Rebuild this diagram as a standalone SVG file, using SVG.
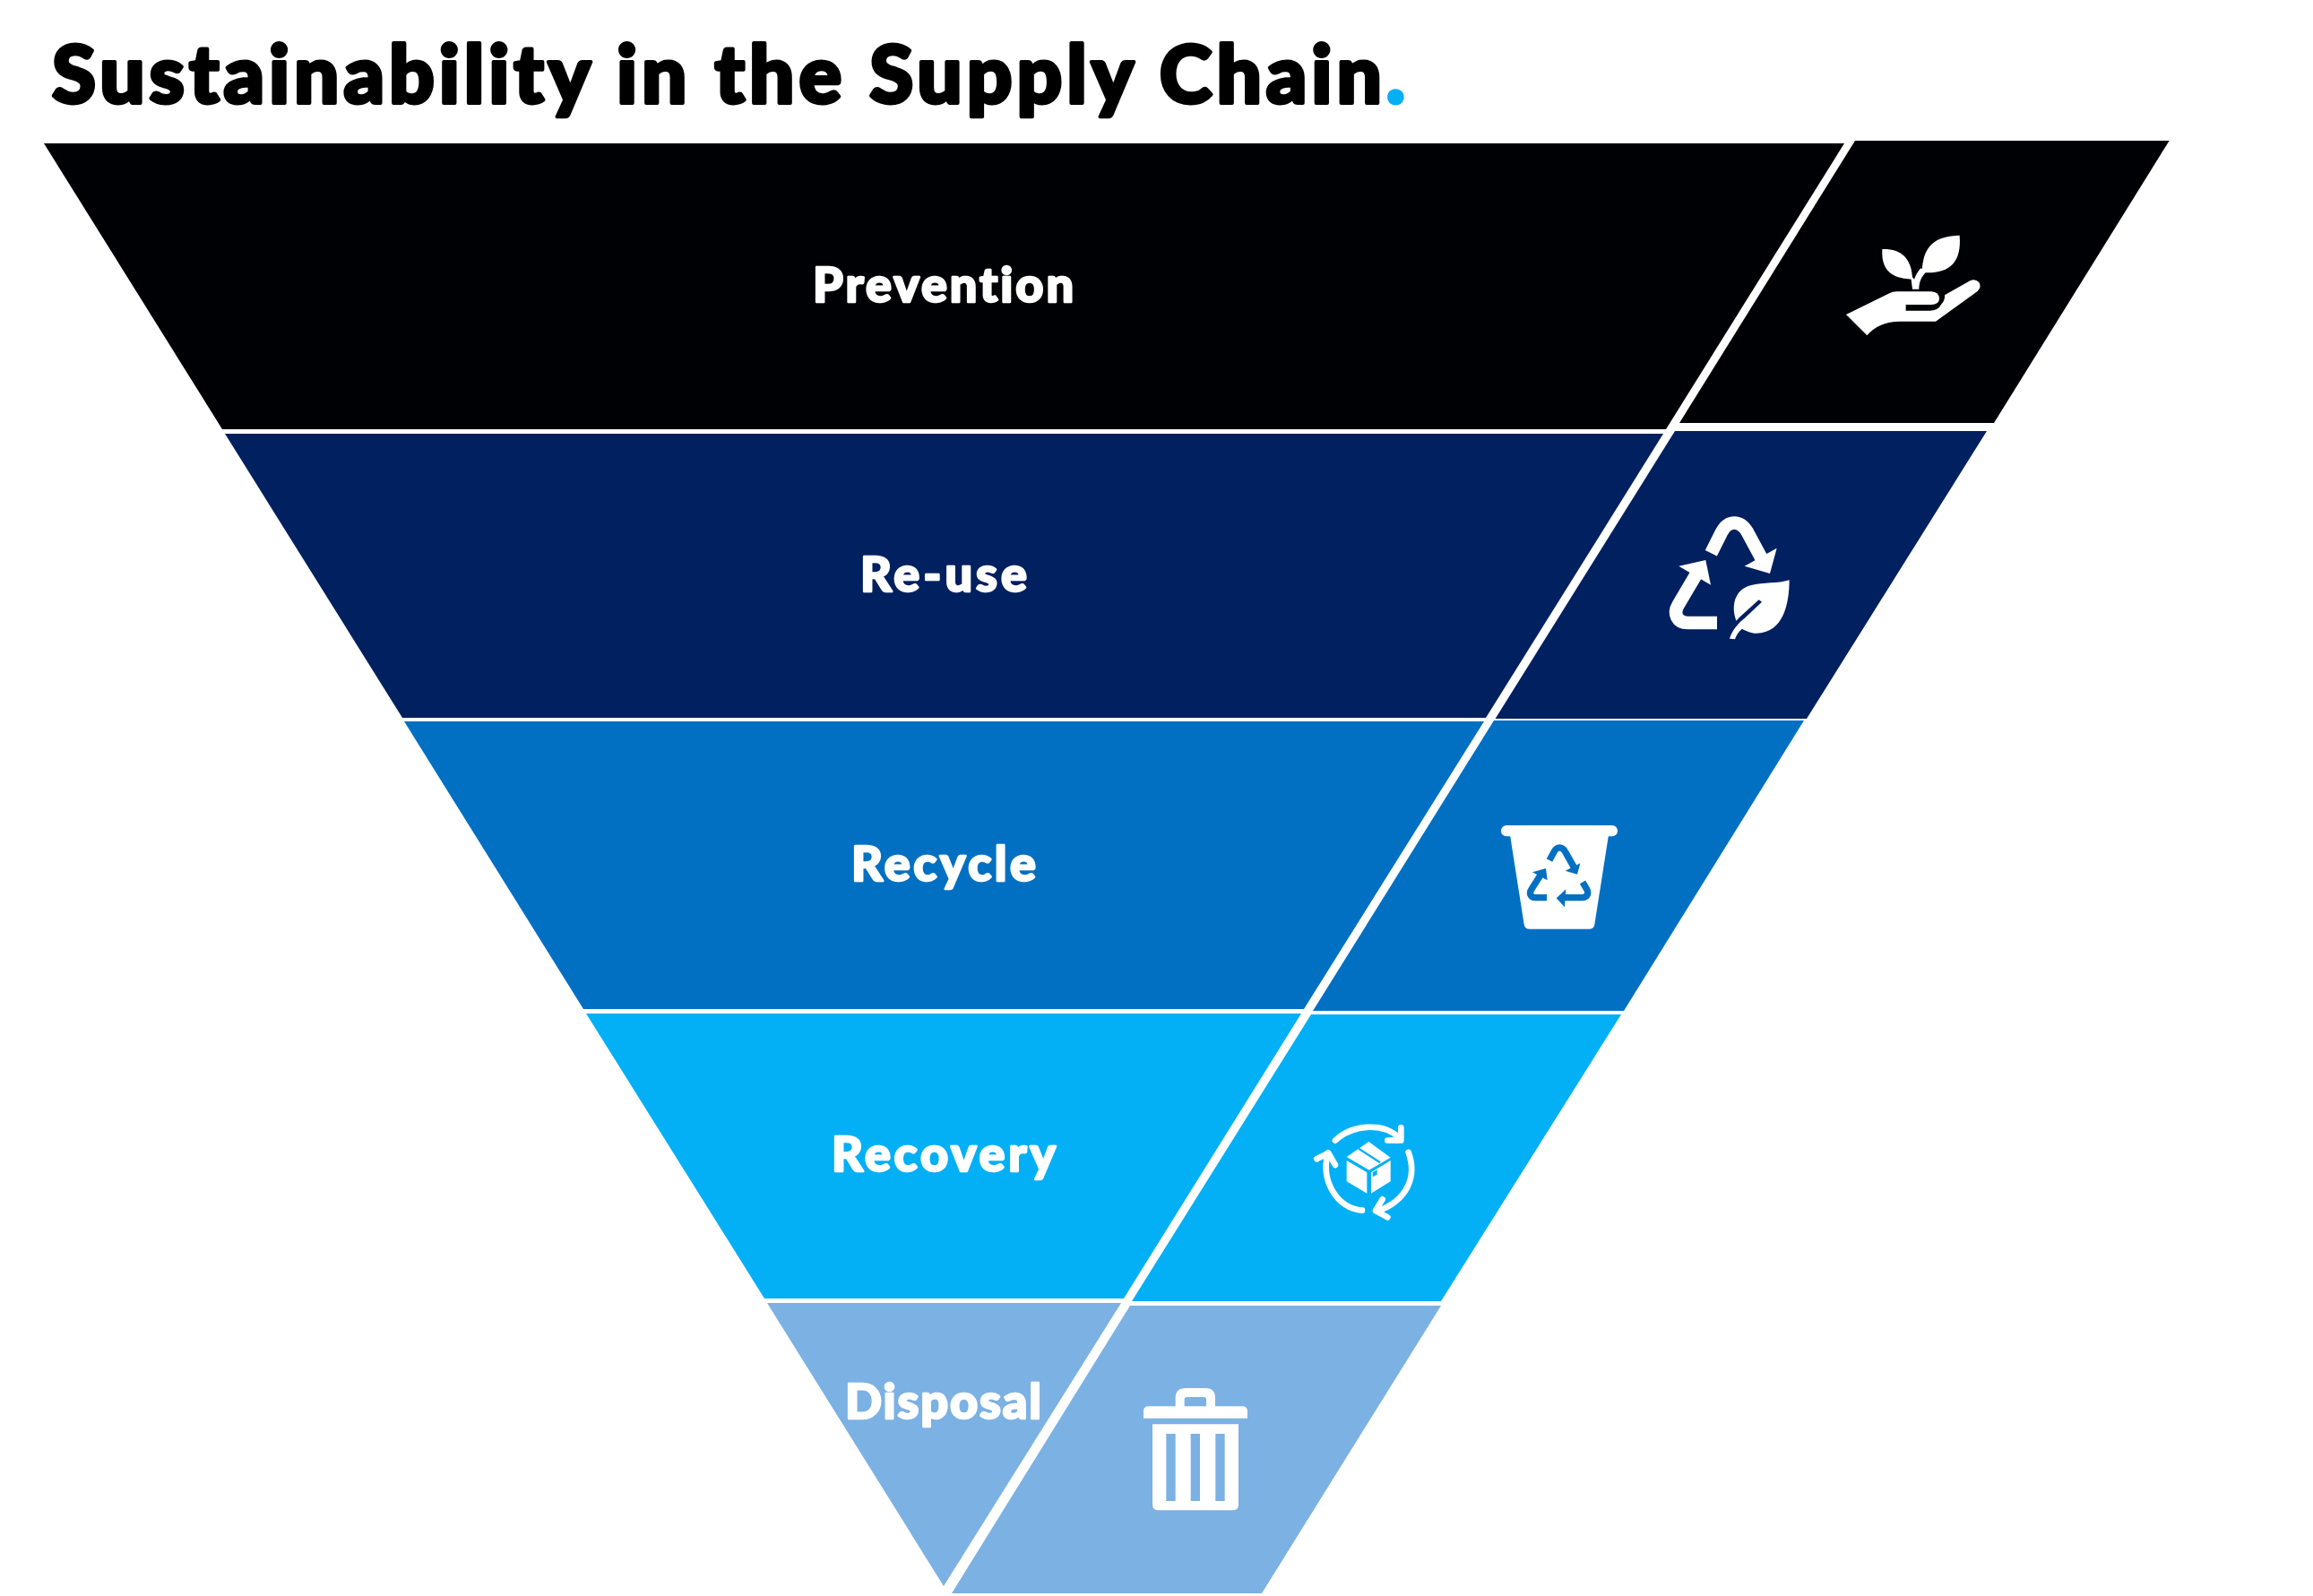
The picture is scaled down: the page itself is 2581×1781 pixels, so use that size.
<svg xmlns="http://www.w3.org/2000/svg" width="2581" height="1781" viewBox="0 0 2581 1781">
<style>
text{font-family:"Lato","Liberation Sans",sans-serif;font-weight:900;font-variant-ligatures:none}
.lbl{font-size:54px;fill:#fff;stroke:#fff;stroke-width:2.4px;stroke-linejoin:round}
.k{fill:#000105}.n{fill:#012060}.b{fill:#0170C3}.c{fill:#04B0F5}.p{fill:#7CB1E3}
.w{fill:#fff}
.ws{fill:none;stroke:#fff;stroke-linecap:butt;stroke-linejoin:miter}
</style>
<rect width="2581" height="1781" fill="#fff"/>
<g id="title"><text x="58" y="115" font-size="89" fill="#000" stroke="#000" stroke-width="4" stroke-linejoin="round" textLength="1510" lengthAdjust="spacing">Sustainability in the Supply Chain<tspan fill="#04B0F5" stroke="#04B0F5">.</tspan></text></g>
<g id="node-prevention"><polygon class="k" points="49,160 2058,160 1859,479 248,479"/><text class="lbl" x="907" y="337" textLength="291" lengthAdjust="spacing">Prevention</text></g>
<g id="node-reuse"><polygon class="n" points="251,484 1856,484 1658,801 449,801"/><text class="lbl" x="960" y="660" textLength="186" lengthAdjust="spacing">Re-use</text></g>
<g id="node-recycle"><polygon class="b" points="451,805 1656,805 1455,1126 651,1126"/><text class="lbl" x="950" y="983" textLength="206" lengthAdjust="spacing">Recycle</text></g>
<g id="node-recovery"><polygon class="c" points="654,1131 1452,1131 1254,1449 853,1449"/><text class="lbl" x="928" y="1307" textLength="250" lengthAdjust="spacing">Recovery</text></g>
<g id="node-disposal"><polygon class="p" points="856,1454 1251,1454 1053,1770"/><text class="lbl" x="943" y="1583" textLength="219" lengthAdjust="spacing">Disposal</text></g>

<g id="icon-prevention">
<polygon class="k" points="2070,157 2420.6,157 2225,472 1874,472"/>
<g transform="translate(2040,240) scale(.3333)" class="w">
<path d="M60,333L205,262Q215,256 230,256L345,256Q372,258 372,280Q372,300 345,300L260,300L260,320L340,320Q368,320 378,300Q392,285 390,268L475,220Q492,212 505,225Q515,240 500,255L360,356L240,356Q170,356 130,403Z"/>
<path d="M181,114C240,112 280,140 282,215C230,212 176,200 181,114Z"/>
<path d="M440,68C360,70 316,100 314,192C400,198 448,165 440,68Z"/>
<path d="M276,200L282,248L304,248C304,225 312,205 330,188L310,178C298,190 292,205 288,215Z"/>
</g></g>
<g id="icon-reuse">
<polygon class="n" points="1869,481 2217,481 2016,802 1668.6,802"/>
<g transform="translate(1840,560) scale(.3333)">
<path class="ws" stroke-width="44" d="M208,172L243,102C265,60 306,60 330,102L380,195"/>
<polygon class="w" points="320,215 428,155 405,240"/>
<path class="ws" stroke-width="44" d="M228,405L130,405C95,405 80,375 98,345L160,240"/>
<polygon class="w" points="100,215 190,195 207,278"/>
<path class="w" d="M470,262C470,340 450,440 360,440C340,440 325,432 312,425C300,435 292,447 288,460L270,458C278,430 300,405 320,390L378,335L368,328L305,385L292,398C275,350 285,295 340,280C385,268 430,275 470,262Z"/>
</g></g>
<g id="icon-recycle">
<polygon class="b" points="1667,804 2013,804 1812,1128 1465,1128"/>
<g transform="translate(1660,905) scale(.3333)">
<rect class="w" x="45" y="48" width="390" height="37" rx="18"/>
<path class="w" d="M75,80L405,80L358,380Q355,395 340,395L140,395Q125,395 122,380Z"/>
<g fill="none" stroke="#0170C3" stroke-width="22">
<path d="M207,165L222,137C232,118 250,118 260,137L290,190"/>
<path d="M198,290L160,290C143,290 138,275 147,262L180,210"/>
<path d="M318,238L332,262C340,278 332,290 315,290L255,290"/>
</g>
<g class="b">
<polygon points="260,200 310,175 300,212"/>
<polygon points="150,205 195,192 200,232"/>
<polygon points="262,262 230,292 258,322"/>
</g></g></g>
<g id="icon-recovery">
<polygon class="c" points="1463,1132 1809,1132 1608,1452 1263,1452"/>
<g transform="translate(1450,1250) scale(.3333)">
<g fill="none" stroke="#fff" stroke-width="20" stroke-linecap="round" stroke-linejoin="round">
<path d="M120,68C175,15 280,5 335,60"/><path d="M340,25L340,68L295,68"/>
<path d="M365,108C395,190 360,270 260,305"/><path d="M295,325L255,303L278,265"/>
<path d="M210,302C130,295 70,210 95,110"/><path d="M58,130L97,110L120,150"/>
</g>
<g class="w">
<polygon points="158,123 232,72 305,125 233,167"/>
<polygon points="158,135 226,175 226,245 158,205"/>
<polygon points="240,175 305,135 305,205 240,245"/>
</g>
<path d="M198,95L270,142" stroke="#04B0F5" stroke-width="7" fill="none"/>
<polygon class="c" points="245,175 260,166 260,182 245,190"/>
</g></g>
<g id="icon-disposal">
<polygon class="p" points="1261,1457 1608,1457 1408,1778 1062,1778"/>
<g transform="translate(1260,1540) scale(.3333)" class="w">
<path fill-rule="evenodd" d="M48,128L48,105Q48,88 65,88L155,88L155,60Q155,27 190,27L255,27Q288,27 288,60L288,88L378,88Q396,88 396,105L396,128ZM185,88L258,88L258,65Q258,57 250,57L193,57Q185,57 185,65Z"/>
<path fill-rule="evenodd" d="M78,148L366,148L366,416Q366,436 346,436L98,436Q78,436 78,416ZM124,180L124,405L155,405L155,180ZM206,180L206,405L237,405L237,180ZM289,180L289,405L320,405L320,180Z"/>
</g></g>
</svg>
